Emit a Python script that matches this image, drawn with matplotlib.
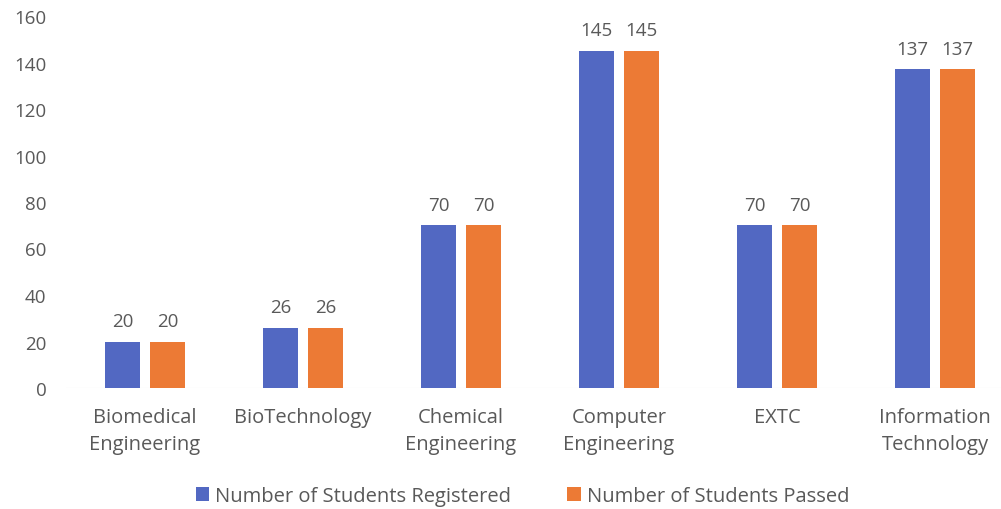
import numpy as np
import matplotlib.pyplot as plt

departments = ["Biomedical\nEngineering", "BioTechnology", "Chemical\nEngineering",
               "Computer\nEngineering", "EXTC", "Information\nTechnology"]
registered = [20, 26, 70, 145, 70, 137]
passed = [20, 26, 70, 145, 70, 137]
series_names = ["Number of Students Registered", "Number of Students Passed"]

BLUE = "#5268C2"
ORANGE = "#EC7A35"
GREY = "#595959"

plt.rcParams["font.family"] = ["Open Sans", "DejaVu Sans"]

fig = plt.figure(figsize=(10.01, 5.10), dpi=100)
ax = fig.add_axes([66 / 1001, (510 - 389) / 510, 1 - 66 / 1001, 372 / 510])

x = np.arange(len(departments))
w = 0.22
off = 0.142
b1 = ax.bar(x - off, registered, w, color=BLUE, label=series_names[0])
b2 = ax.bar(x + off, passed, w, color=ORANGE, label=series_names[1])

for bars in (b1, b2):
    for rect in bars:
        h = rect.get_height()
        ax.text(rect.get_x() + rect.get_width() / 2, h + 5, f"{h:g}",
                ha="center", va="bottom", fontsize=13.5, color=GREY)

ax.axhline(0, color="#E0E0E0", lw=0.8, zorder=0)
ax.set_xlim(-0.5, (1001 - 145) / 158)
ax.set_ylim(0, 160)
ax.set_yticks(range(0, 161, 20))
ax.set_xticks(x)
ax.set_xticklabels(departments, fontsize=14.5, color=GREY, linespacing=1.45)
ax.tick_params(axis="y", labelsize=13.5, colors=GREY, length=0, pad=14)
ax.tick_params(axis="x", length=0, pad=14)
for s in ax.spines.values():
    s.set_visible(False)

fig.legend(handles=[b1, b2], loc="center", bbox_to_anchor=(0.522, 1 - 497 / 510),
           ncol=2, frameon=False, fontsize=14.5, labelcolor=GREY,
           handlelength=0.65, handleheight=0.65, handletextpad=0.3, columnspacing=2.8)

fig.savefig("out.png", dpi=100)
